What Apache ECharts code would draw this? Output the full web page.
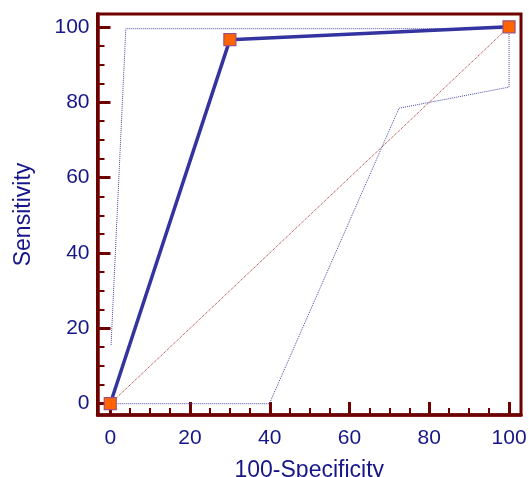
<!DOCTYPE html>
<html>
<head>
<meta charset="utf-8">
<script src="https://cdn.jsdelivr.net/npm/echarts@6/dist/echarts.min.js"></script>
<style>html,body{margin:0;padding:0;background:#fff}#c{width:529px;height:477px}</style>
</head>
<body>
<div id="c"></div>
<script>
// ROC curve
var rocX = [0, 30, 100];
var rocY = [0, 96.6, 100];
// Confidence bounds
var upperX = [0.2, 3.9, 100];
var upperY = [15.6, 99.5, 99.5];
var lowerX = [0, 39.9, 72.4, 100, 100];
var lowerY = [0, 0, 78.4, 84.0, 99.5];
// Reference diagonal
var diagX = [0, 100];
var diagY = [0, 100];
// Ticks
var majorTicks = [0, 20, 40, 60, 80, 100];
var minorTicks = [5, 10, 15, 25, 30, 35, 45, 50, 55, 65, 70, 75, 85, 90, 95];

function pairs(xs, ys) { return xs.map(function (x, i) { return [x, ys[i]]; }); }

var axisCol = '#6e0000';
var txtCol = '#16168a';
var font = 'Liberation Sans, Arial, sans-serif';

function mkAxis(isX, major) {
  return {
    type: 'value',
    position: isX ? 'bottom' : 'left',
    offset: 0,
    min: isX ? -3.2 : -3.0,
    max: isX ? 103 : 103.4,
    splitLine: { show: false },
    axisLine: { show: major, onZero: false, lineStyle: { color: axisCol, width: 3.5 } },
    axisTick: {
      show: true, inside: true,
      length: major ? 13 : 7,
      customValues: major ? majorTicks : minorTicks,
      lineStyle: { color: axisCol, width: major ? 3 : 2 }
    },
    axisLabel: {
      show: major,
      customValues: majorTicks,
      color: txtCol, fontSize: 21, fontFamily: font, margin: isX ? 13 : 8
    },
    name: major ? (isX ? '100-Specificity' : 'Sensitivity') : '',
    nameLocation: 'middle',
    nameGap: isX ? 44 : 62,
    nameTextStyle: { color: txtCol, fontSize: 23, fontFamily: font }
  };
}

var chart = echarts.init(document.getElementById('c'));
chart.setOption({
  animation: false,
  grid: { left: 97.5, right: 8, top: 14, bottom: 62, containLabel: false, outerBoundsMode: 'none',
    show: true, borderColor: axisCol, borderWidth: 3, backgroundColor: 'transparent' },
  xAxis: [mkAxis(true, true), mkAxis(true, false)],
  yAxis: [mkAxis(false, true), mkAxis(false, false)],
  series: [
    { type: 'line', data: pairs(diagX, diagY), symbol: 'none', lineStyle: { color: '#a02828', width: 1, type: 'dotted' }, z: 1 },
    { type: 'line', data: pairs(upperX, upperY), symbol: 'none', lineStyle: { color: '#4848a8', width: 1, type: 'dotted' }, z: 1 },
    { type: 'line', data: pairs(lowerX, lowerY), symbol: 'none', lineStyle: { color: '#4848a8', width: 1, type: 'dotted' }, z: 1 },
    { type: 'line', data: pairs(rocX, rocY), symbol: 'rect', symbolSize: 12,
      itemStyle: { color: '#ff6400', borderColor: '#a0507a', borderWidth: 1.2 },
      lineStyle: { color: '#3434a0', width: 3.5 }, z: 3 }
  ]
});
</script>
</body>
</html>
